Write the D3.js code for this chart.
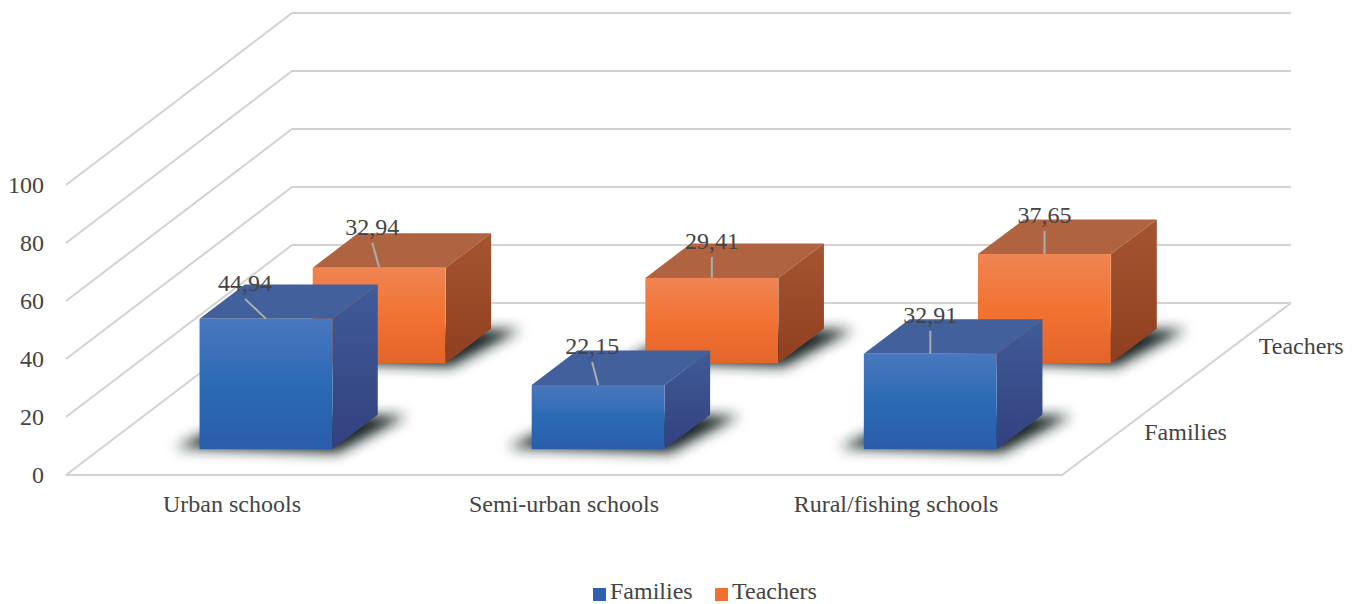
<!DOCTYPE html>
<html>
<head>
<meta charset="utf-8">
<script src="https://cdn.jsdelivr.net/npm/d3@7"></script>
<style>
  html, body { margin: 0; padding: 0; background: #fff; }
  svg { display: block; }
  text { font-family: "Liberation Serif", serif; font-size: 24px; fill: #444; }
  .axis .domain, .axis line { display: none; }
</style>
</head>
<body>
<script>
//Chart values
var categories = ["Urban schools", "Semi-urban schools", "Rural/fishing schools"];
var seriesNames = ["Families", "Teachers"];
var familiesValues = [44.94, 22.15, 32.91];
var teachersValues = [32.94, 29.41, 37.65];
var valueTicks = [0, 20, 40, 60, 80, 100];

//Width and height
var width = 1357;
var height = 604;

//The floor is a parallelogram, depth 0..1 moves back and to the right
//(the right edge runs a little further than the left one, slight perspective)
var depthX = 226;
var depthXRight = 229;
var depthY = 172;
var barDepth = 0.2;

var x = d3.scaleBand()
    .domain(categories)
    .range([66, 1062])
    .paddingInner(0.6)
    .paddingOuter(0.3);

var depth = d3.scaleBand()
    .domain(seriesNames)
    .range([0, 1])
    .paddingInner(0.6)
    .paddingOuter(0.3);

var y = d3.scaleLinear()
    .domain([0, 100])
    .range([475, 185]);

var skew = d3.scaleLinear()
    .domain(x.range())
    .range([depthX, depthXRight]);

//Data labels were moved by hand in the original, offsets from the top front edge
var leaderEnds = {
    Families: [[-21, -20], [-6, -23], [0, -23]],
    Teachers: [[-7, -25], [0, -21], [0, -23]]
};

var colors = {
    Families: {
        front: ["#4a77bd", "#2b6ab4", "#2a5dab"],
        side: ["#3f5c98", "#33407f"],
        top: "#42609b",
        legend: "#2f62ae"
    },
    Teachers: {
        front: ["#ef8552", "#f27232", "#e4652a"],
        side: ["#a5552f", "#8f3f20"],
        top: "#b06341",
        legend: "#ef7030"
    }
};

//base x (on the front edge), depth, value -> screen point
var project = function(px, d, v) {
    return [px + d * skew(px), y(v) - d * depthY];
};

var polyLine = d3.line();

var svg = d3.select("body")
    .append("svg")
    .attr("width", width)
    .attr("height", height);

var defs = svg.append("defs");

var blur = defs.append("filter")
    .attr("id", "shadowBlur")
    .attr("x", "-50%").attr("y", "-100%")
    .attr("width", "200%").attr("height", "300%");
blur.append("feGaussianBlur").attr("stdDeviation", 6.5);

seriesNames.forEach(function(name) {
    var front = defs.append("linearGradient")
        .attr("id", name + "Front")
        .attr("x1", 0).attr("y1", 0).attr("x2", 0).attr("y2", 1);
    colors[name].front.forEach(function(c, i) {
        front.append("stop").attr("offset", i / 2).attr("stop-color", c);
    });
    var side = defs.append("linearGradient")
        .attr("id", name + "Side")
        .attr("x1", 0).attr("y1", 0).attr("x2", 0).attr("y2", 1);
    colors[name].side.forEach(function(c, i) {
        side.append("stop").attr("offset", i).attr("stop-color", c);
    });
});

//Grid lines on the left and back walls
var grid = svg.append("g");
grid.selectAll("path")
    .data(valueTicks)
    .enter()
    .append("path")
    .attr("d", function(v) {
        return polyLine([
            project(x.range()[0], 0, v),
            project(x.range()[0], 1, v),
            project(x.range()[1], 1, v)
        ]);
    })
    .attr("fill", "none")
    .attr("stroke", "#d2d2d0")
    .attr("stroke-width", 2);

//Floor front and right edges
grid.append("path")
    .attr("d", polyLine([
        project(x.range()[0], 0, 0),
        project(x.range()[1], 0, 0),
        project(x.range()[1], 1, 0)
    ]))
    .attr("fill", "none")
    .attr("stroke", "#d2d2d0")
    .attr("stroke-width", 2);

//Axes
svg.append("g")
    .attr("class", "axis")
    .attr("transform", "translate(" + x.range()[0] + ",0)")
    .call(d3.axisLeft(y).tickValues(valueTicks).tickSize(0).tickPadding(22))
    .selectAll("text")
    .style("font-size", "24px")
    .style("font-family", "'Liberation Serif', serif");

svg.append("g")
    .attr("class", "axis")
    .attr("transform", "translate(0," + y(0) + ")")
    .call(d3.axisBottom(x).tickSize(0).tickPadding(20))
    .selectAll("text")
    .style("font-size", "24px")
    .style("font-family", "'Liberation Serif', serif");

//Series names along the right floor edge
svg.selectAll(".depthLabel")
    .data(seriesNames)
    .enter()
    .append("text")
    .attr("class", "depthLabel")
    .attr("x", function(d) { return project(x.range()[1], depth(d) + depth.bandwidth() / 2, 0)[0] + 25; })
    .attr("y", function(d) { return project(x.range()[1], depth(d) + depth.bandwidth() / 2, 0)[1] + 8; })
    .text(function(d) { return d; });

//Back row first so the front row overlaps it
var rows = [
    { name: "Teachers", values: teachersValues },
    { name: "Families", values: familiesValues }
];

rows.forEach(function(row) {
    var d0 = depth(row.name);
    var d1 = d0 + barDepth;

    var bars = svg.append("g")
        .selectAll("g")
        .data(categories)
        .enter()
        .append("g");

    //Ground shadow
    bars.append("path")
        .attr("d", function(c) {
            var x0 = x(c);
            var x1 = x0 + x.bandwidth();
            var a = project(x0 - 26, d0 + 0.01, 0);
            var b = project(x1 + 10, d0 - 0.02, 0);
            var e = project(x1 + 30, d1 - 0.005, 0);
            var f = project(x0, d1, 0);
            return polyLine([a, b, e, f]) + "Z";
        })
        .attr("fill", "#182222")
        .attr("filter", "url(#shadowBlur)");

    //Top face
    bars.append("path")
        .attr("d", function(c, i) {
            var x0 = x(c);
            var x1 = x0 + x.bandwidth();
            var v = row.values[i];
            return polyLine([
                project(x0, d0, v), project(x1, d0, v),
                project(x1, d1, v), project(x0, d1, v)
            ]) + "Z";
        })
        .attr("fill", colors[row.name].top);

    //Side face
    bars.append("path")
        .attr("d", function(c, i) {
            var x1 = x(c) + x.bandwidth();
            var v = row.values[i];
            return polyLine([
                project(x1, d0, v), project(x1, d1, v),
                project(x1, d1, 0), project(x1, d0, 0)
            ]) + "Z";
        })
        .attr("fill", "url(#" + row.name + "Side)");

    //Front face
    bars.append("rect")
        .attr("x", function(c) { return project(x(c), d0, 0)[0]; })
        .attr("y", function(c, i) { return project(x(c), d0, row.values[i])[1]; })
        .attr("width", x.bandwidth())
        .attr("height", function(c, i) { return y(0) - y(row.values[i]); })
        .attr("fill", "url(#" + row.name + "Front)");

    //Leader line and value label
    bars.append("path")
        .attr("d", function(c, i) {
            var p = project(x(c) + x.bandwidth() / 2, d0, row.values[i]);
            var o = leaderEnds[row.name][i];
            return polyLine([p, [p[0] + o[0], p[1] + o[1]]]);
        })
        .attr("fill", "none")
        .attr("stroke", "#a9aeae")
        .attr("stroke-width", 2);

    bars.append("text")
        .attr("text-anchor", "middle")
        .attr("x", function(c, i) {
            return project(x(c) + x.bandwidth() / 2, d0, row.values[i])[0] + leaderEnds[row.name][i][0];
        })
        .attr("y", function(c, i) {
            return project(x(c) + x.bandwidth() / 2, d0, row.values[i])[1] + leaderEnds[row.name][i][1] - 8;
        })
        .text(function(c, i) { return d3.format(".2f")(row.values[i]).replace(".", ","); });
});

//Legend
var legendX = d3.scaleOrdinal().domain(seriesNames).range([593, 715]);
var legend = svg.append("g")
    .selectAll("g")
    .data(seriesNames)
    .enter()
    .append("g")
    .attr("transform", function(d) { return "translate(" + legendX(d) + ",594)"; });

legend.append("rect")
    .attr("y", -6)
    .attr("width", 13)
    .attr("height", 13)
    .attr("fill", function(d) { return colors[d].legend; });

legend.append("text")
    .attr("x", 17)
    .attr("y", 4.5)
    .text(function(d) { return d; });
</script>
</body>
</html>
